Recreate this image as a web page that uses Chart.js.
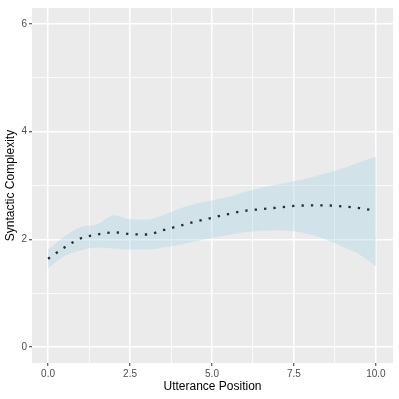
<!DOCTYPE html>
<html>
<head>
<meta charset="utf-8">
<script src="https://cdn.jsdelivr.net/npm/chart.js@4.4.0/dist/chart.umd.min.js"></script>
<style>
  body { margin: 0; background: #ffffff; }
  canvas { display: block; }
</style>
</head>
<body>
<canvas id="smoothChart" width="399" height="399"></canvas>
<script>
// Utterance positions sampled along the smooth
const positions = [0, 0.5, 1, 1.5, 2, 2.5, 3, 3.5, 4, 4.5, 5, 5.5, 6, 6.5, 7, 7.5, 8, 8.5, 9, 9.5, 10];
// fitted mean (dotted line)
const meanValues = [1.64, 1.85, 2.02, 2.09, 2.13, 2.10, 2.09, 2.17, 2.25, 2.33, 2.40, 2.47, 2.53, 2.56, 2.59, 2.62, 2.63, 2.63, 2.61, 2.58, 2.53];
// confidence band
const upperValues = [1.81, 2.06, 2.23, 2.28, 2.45, 2.38, 2.37, 2.45, 2.57, 2.66, 2.72, 2.79, 2.88, 2.96, 3.02, 3.08, 3.15, 3.23, 3.32, 3.43, 3.54];
const lowerValues = [1.46, 1.69, 1.80, 1.85, 1.83, 1.81, 1.81, 1.85, 1.90, 1.96, 2.02, 2.08, 2.13, 2.16, 2.17, 2.15, 2.09, 1.99, 1.86, 1.72, 1.50];

// axis ticks (majors get labels, minors only grid lines)
const xTicks = [0, 1.25, 2.5, 3.75, 5, 6.25, 7.5, 8.75, 10];
const xTickLabels = ["0.0", "", "2.5", "", "5.0", "", "7.5", "", "10.0"];
const yTicks = [0, 1, 2, 3, 4, 5, 6];
const yTickLabels = ["0", "", "2", "", "4", "", "6"];

const toPoints = (vals) => positions.map((x, i) => ({ x: x, y: vals[i] }));

// grey panel background like ggplot
const panelBg = {
    id: "panelBg",
    beforeDraw(chart) {
        const { ctx, chartArea } = chart;
        ctx.save();
        ctx.fillStyle = "#ebebeb";
        ctx.fillRect(chartArea.left, chartArea.top, chartArea.right - chartArea.left, chartArea.bottom - chartArea.top);
        ctx.restore();
    }
};

const isMajor = (labels, idx) => labels[idx] !== "";

const smoothChart = new Chart(document.getElementById("smoothChart"), {
    type: "line",
    data: {
        datasets: [
            {
                label: "mean",
                data: toPoints(meanValues),
                borderColor: "#2b2b2b",
                borderWidth: 2.3,
                borderDash: [2.3, 7.1],
                borderCapStyle: "butt",
                pointRadius: 0,
                cubicInterpolationMode: "monotone",
                fill: false,
                order: 0
            },
            {
                label: "upper",
                data: toPoints(upperValues),
                borderWidth: 0,
                borderColor: "rgba(0,0,0,0)",
                backgroundColor: "rgba(173, 216, 230, 0.42)",
                pointRadius: 0,
                cubicInterpolationMode: "monotone",
                fill: "+1",
                order: 1
            },
            {
                label: "lower",
                data: toPoints(lowerValues),
                borderWidth: 0,
                borderColor: "rgba(0,0,0,0)",
                pointRadius: 0,
                cubicInterpolationMode: "monotone",
                fill: false,
                order: 2
            }
        ]
    },
    options: {
        responsive: false,
        animation: false,
        layout: { padding: { left: 0, top: 6, right: 6, bottom: 0 } },
        plugins: {
            legend: { display: false },
            tooltip: { enabled: false }
        },
        scales: {
            x: {
                type: "linear",
                min: -0.49,
                max: 10.52,
                afterBuildTicks: (scale) => { scale.ticks = xTicks.map(v => ({ value: v })); },
                afterFit: (scale) => { scale.height = 36; },
                border: { display: false },
                grid: {
                    color: "#ffffff",
                    lineWidth: (ctx) => isMajor(xTickLabels, ctx.index) ? 1.5 : 0.8,
                    tickColor: (ctx) => isMajor(xTickLabels, ctx.index) ? "#333333" : "rgba(0,0,0,0)",
                    tickLength: 3,
                    tickWidth: 1
                },
                ticks: {
                    autoSkip: false,
                    maxRotation: 0,
                    padding: 2,
                    color: "#4d4d4d",
                    font: { family: "Liberation Sans", size: 10 },
                    callback: (value, index) => xTickLabels[index]
                },
                title: {
                    display: true,
                    text: "Utterance Position",
                    color: "#000000",
                    font: { family: "Liberation Sans", size: 12 },
                    padding: { top: 1, bottom: 5 }
                }
            },
            y: {
                type: "linear",
                min: -0.295,
                max: 6.295,
                afterBuildTicks: (scale) => { scale.ticks = yTicks.map(v => ({ value: v })); },
                afterFit: (scale) => { scale.width = 32; },
                border: { display: false },
                grid: {
                    color: "#ffffff",
                    lineWidth: (ctx) => isMajor(yTickLabels, ctx.index) ? 1.5 : 0.8,
                    tickColor: (ctx) => isMajor(yTickLabels, ctx.index) ? "#333333" : "rgba(0,0,0,0)",
                    tickLength: 3,
                    tickWidth: 1
                },
                ticks: {
                    autoSkip: false,
                    padding: 2,
                    color: "#4d4d4d",
                    font: { family: "Liberation Sans", size: 10 },
                    callback: (value, index) => yTickLabels[index]
                },
                title: {
                    display: true,
                    text: "Syntactic Complexity",
                    color: "#000000",
                    font: { family: "Liberation Sans", size: 12 },
                    padding: { top: 3, bottom: 0 }
                }
            }
        }
    },
    plugins: [panelBg]
});
</script>
</body>
</html>
